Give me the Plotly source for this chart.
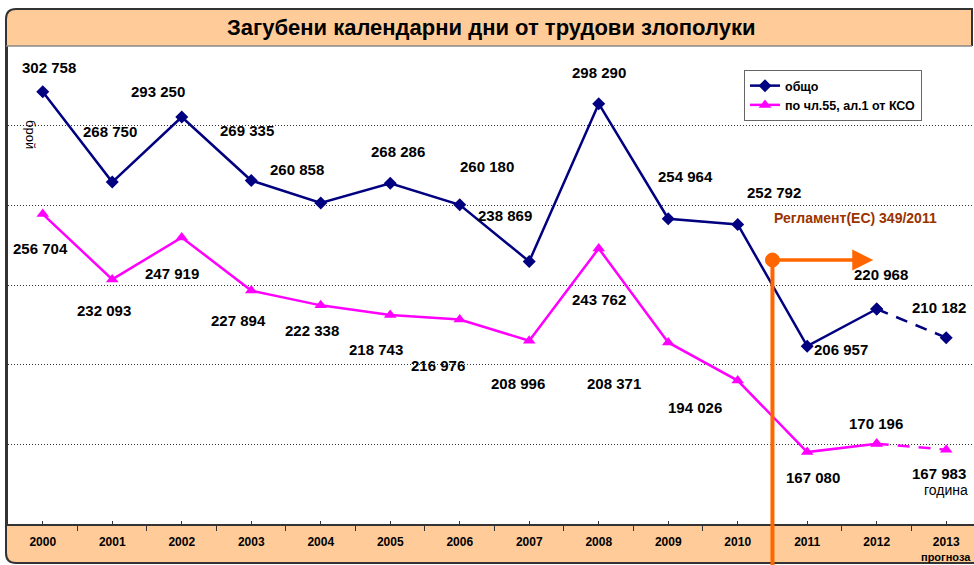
import plotly.graph_objects as go

# ---------------- data ----------------
years = [2000, 2001, 2002, 2003, 2004, 2005, 2006, 2007, 2008, 2009, 2010, 2011, 2012, 2013]
year_labels = [str(y) for y in years]
total_days = [302758, 268750, 293250, 269335, 260858, 268286, 260180, 238869,
              298290, 254964, 252792, 206957, 220968, 210182]
art55_days = [256704, 232093, 247919, 227894, 222338, 218743, 216976, 208996,
              243762, 208371, 194026, 167080, 170196, 167983]
series_names = ["общо", "по чл.55, ал.1 от КСО"]
title_text = "Загубени календарни дни от трудови злополуки"
regulation_text = "Регламент(ЕС) 349/2011"
regulation_year = 2010.5
forecast_from = 2012  # dashed segment starts here

# ---------------- style ----------------
W, H = 974, 565
L, R, T, B = 8, 0, 46, 41
NAVY = "#000080"
MAG = "#FF00FF"
ORANGE = "#FF6600"
BAND = "#FFCC99"
SANS = "Liberation Sans, Arial, sans-serif"
LBL_FONT = dict(family=SANS, size=15, color="black")

# label offsets in pixels (dx, dy with dy positive downward)
total_off = [(6, -24), (-2, -51), (-24, -26), (-4, -50), (-24, -34), (8, -32), (27, -38),
             (-24, -46), (0, -31), (17, -42), (36, -32), (34, 3), (4, -34), (-7, -30)]
art_off = [(-2, 34), (-8, 31), (-10, 36), (-13, 30), (-9, 25), (-14, 35), (-22, 46),
           (-11, 43), (0, 51), (-54, 41), (-43, 27), (6, 25), (-1, -20), (-7, 24)]

XR = [1999.5, 2013.4]
YR = [140000, 320000]
PW, PH = W - L - R, H - T - B


def px(p):
    return (p - L) / PW


def py(q):
    return (H - B - q) / PH


def fmt(v):
    return f"{v:,}".replace(",", " ")


fig = go.Figure()

k = years.index(forecast_from)
for vals, name, col, sym, msize in [
    (total_days, series_names[0], NAVY, "diamond", 10),
    (art55_days, series_names[1], MAG, "triangle-up", 11),
]:
    fig.add_trace(go.Scatter(
        x=years[:k + 1], y=vals[:k + 1], mode="lines+markers", name=name,
        line=dict(color=col, width=2.5),
        marker=dict(symbol=sym, size=msize, color=col),
        cliponaxis=False,
    ))
    fig.add_trace(go.Scatter(
        x=years[k:], y=vals[k:], mode="lines+markers", showlegend=False,
        line=dict(color=col, width=2.5, dash="12px,9px"),
        marker=dict(symbol=sym, size=msize, color=col),
        cliponaxis=False,
    ))

annotations = []
for vals, offs in [(total_days, total_off), (art55_days, art_off)]:
    for yr, v, (dx, dy) in zip(years, vals, offs):
        annotations.append(dict(
            x=yr, y=v, xref="x", yref="y", text="<b>" + fmt(v) + "</b>",
            showarrow=False, xshift=dx, yshift=-dy, font=LBL_FONT,
            xanchor="center", yanchor="middle"))

# title
annotations.append(dict(x=px(491), y=py(28), xref="paper", yref="paper",
                        text="<b>" + title_text + "</b>", showarrow=False,
                        font=dict(family=SANS, size=22, color="black"),
                        xanchor="center", yanchor="middle"))
# axis titles
annotations.append(dict(x=px(31), y=py(134), xref="paper", yref="paper", text="брой",
                        textangle=90, showarrow=False, xanchor="center", yanchor="middle",
                        font=dict(family=SANS, size=13, color="black")))
annotations.append(dict(x=years[-1], y=py(490), xref="x", yref="paper", text="година",
                        showarrow=False, xanchor="center", yanchor="middle",
                        font=dict(family=SANS, size=14, color="black")))
annotations.append(dict(x=years[-1], y=py(557), xref="x", yref="paper", text="<b>прогноза</b>",
                        showarrow=False, xanchor="center", yanchor="middle",
                        font=dict(family=SANS, size=11, color="black")))
# regulation
arrow_y = YR[0] + (H - B - 260) / PH * (YR[1] - YR[0])
annotations.append(dict(x=px(855), y=py(218), xref="paper", yref="paper",
                        text="<b>" + regulation_text + "</b>", showarrow=False,
                        xanchor="center", yanchor="middle",
                        font=dict(family=SANS, size=14, color="#993300")))
annotations.append(dict(x=regulation_year + 1.45, y=arrow_y, xref="x", yref="y",
                        ax=regulation_year, ay=arrow_y, axref="x", ayref="y",
                        text="", showarrow=True, arrowhead=2, arrowsize=1.2,
                        arrowwidth=3.5, arrowcolor=ORANGE, standoff=0))

reg_px = (regulation_year - XR[0]) / (XR[1] - XR[0])
shapes = [
    # title band
    dict(type="path", xref="paper", yref="paper", layer="below",
         path=f"M {px(6)} {py(46)} L {px(6)} {py(19)} Q {px(6)} {py(9)} {px(16)} {py(9)} "
              f"L {px(972)} {py(9)} L {px(972)} {py(46)} Z",
         fillcolor=BAND, line=dict(width=0)),
    # bottom band
    dict(type="path", xref="paper", yref="paper", layer="below",
         path=f"M {px(6)} {py(524)} L {px(6)} {py(553)} Q {px(6)} {py(563)} {px(16)} {py(563)} "
              f"L {px(974)} {py(563)} L {px(974)} {py(524)} Z",
         fillcolor=BAND, line=dict(width=0)),
    # outer border
    dict(type="path", xref="paper", yref="paper", layer="above",
         path=f"M {px(972)} {py(46)} L {px(972)} {py(9)} L {px(16)} {py(9)} "
              f"Q {px(6)} {py(9)} {px(6)} {py(19)} L {px(6)} {py(553)} "
              f"Q {px(6)} {py(563)} {px(16)} {py(563)} L {px(974)} {py(563)}",
         line=dict(color="#333333", width=2)),
    # title band bottom line
    dict(type="line", xref="paper", yref="paper", x0=px(6), x1=px(972), y0=1, y1=1,
         line=dict(color="#888888", width=1.5)),
    # regulation vertical line
    dict(type="line", xref="paper", yref="paper", x0=reg_px, x1=reg_px,
         y0=py(565), y1=py(260), line=dict(color=ORANGE, width=4), layer="above"),
    # regulation circle
    dict(type="circle", xref="x", yref="y", xsizemode="pixel", ysizemode="pixel",
         xanchor=regulation_year, yanchor=arrow_y, x0=-7, x1=7, y0=-7, y1=7,
         fillcolor=ORANGE, line=dict(color=ORANGE, width=1)),
]

fig.update_layout(
    width=W, height=H,
    margin=dict(l=L, r=R, t=T, b=B, pad=0),
    paper_bgcolor="white", plot_bgcolor="white",
    showlegend=True,
    legend=dict(x=px(744), y=py(70), xanchor="left", yanchor="top",
                bgcolor="white", bordercolor="#666666", borderwidth=1,
                font=dict(family=SANS, size=12.5, color="black", weight="bold"),
                itemwidth=30, tracegroupgap=0),
    annotations=annotations, shapes=shapes,
    xaxis=dict(range=XR, tickmode="array", tickvals=years,
               ticktext=["<b>" + t + "</b>" for t in year_labels],
               ticks="inside", ticklen=3, tickcolor="#333333",
               showgrid=False, zeroline=False,
               showline=True, linecolor="#333333", linewidth=1.5,
               tickfont=dict(family=SANS, size=12, color="black"),
               ticklabelstandoff=6,
               minor=dict(tickmode="linear", tick0=1999.5, dtick=1, ticks="outside",
                          ticklen=5, tickcolor="#333333", showgrid=False)),
    yaxis=dict(range=YR, tickmode="linear", tick0=140000, dtick=30000,
               showticklabels=False, ticks="", showgrid=True,
               gridcolor="#333333", gridwidth=1, griddash="1px,2px",
               zeroline=False, showline=True, linecolor="#333333", linewidth=2),
)

fig.write_html("out.html", config={"displayModeBar": False},
               post_script="document.body.style.margin='0';document.body.style.overflow='hidden';")
